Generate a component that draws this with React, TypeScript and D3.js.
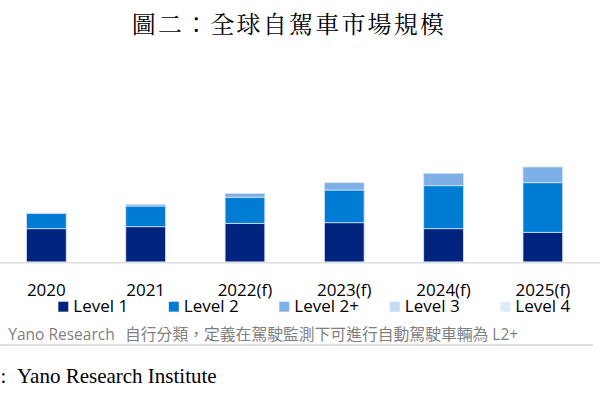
import React from 'react';
import * as d3 from 'd3';

// Years on the x axis
const years = ['2020', '2021', '2022(f)', '2023(f)', '2024(f)', '2025(f)'];

// Series names (stack order, bottom to top)
const levels = ['Level 1', 'Level 2', 'Level 2+', 'Level 3', 'Level 4'];

// Values (relative market size, no axis in the source)
const level1 = [33.2, 35.2, 38.6, 39.2, 33.2, 29.6];
const level2 = [15.2, 20.7, 26.1, 32.7, 43.0, 49.6];
const level2p = [0.4, 1.7, 3.7, 7.3, 12.4, 15.7];
const level3 = [0, 0, 0, 0, 0, 0];
const level4 = [0, 0, 0, 0, 0, 0];

const colors = ['#00237e', '#007cd5', '#7eb0e8', '#c6dcf5', '#deebfa'];

const title = '圖二：全球自駕車市場規模';
const noteLatin = 'Yano Research';
const noteCjk = '自行分類，定義在駕駛監測下可進行自動駕駛車輛為';
const noteTail = ' L2+';
const source = 'Yano Research Institute';

const W = 600;
const H = 400;
const baseY = 261.9;

export default function App() {
  const series = [level1, level2, level2p, level3, level4];
  const rows = years.map((yr, i) => {
    const r: Record<string, any> = { year: yr };
    levels.forEach((lv, j) => (r[lv] = series[j][i]));
    return r;
  });
  const stacked = d3.stack<any>().keys(levels)(rows);

  const x = d3.scaleBand<string>()
    .domain(years)
    .range([-3.3, 592.5])
    .paddingInner(0.6)
    .paddingOuter(0.3);
  const y = d3.scaleLinear().domain([0, 100]).range([baseY, baseY - 100]);

  const sans = '"Open Sans", "Noto Sans", sans-serif';
  const cjk = '"Noto Sans CJK TC", sans-serif';

  return (
    <div style={{ position: 'absolute', left: 0, top: 0 }} lang="zh-TW">
      <svg width={W} height={H} style={{ display: 'block', background: '#fff' }}>
        <text
          x={289}
          y={33.3}
          textAnchor="middle"
          fontFamily='"Noto Serif CJK TC", "Noto Sans CJK TC", serif'
          fontSize={24}
          letterSpacing={2.2}
          fill="#000"
        >
          {title}
        </text>

        {stacked.map((s, si) => (
          <g key={s.key} fill={colors[si]}>
            {s.map((d, i) =>
              d[1] - d[0] > 0 ? (
                <rect
                  key={i}
                  x={x(years[i])}
                  y={y(d[1])}
                  width={x.bandwidth()}
                  height={y(d[0]) - y(d[1])}
                  stroke="#d6e3f6"
                  strokeWidth={0.8}
                />
              ) : null
            )}
          </g>
        ))}

        <line x1={0} x2={W} y1={baseY + 0.8} y2={baseY + 0.8} stroke="#dcdcdc" strokeWidth={1.5} />

        {years.map((yr) => (
          <text
            key={yr}
            x={(x(yr) ?? 0) + x.bandwidth() / 2}
            y={295.5}
            textAnchor="middle"
            fontFamily={sans}
            fontSize={17}
            fill="#000"
          >
            {yr}
          </text>
        ))}

        {levels.map((lv, i) => {
          const lx = 58.3 + i * 110.5;
          return (
            <g key={lv}>
              <rect x={lx} y={301.7} width={10} height={10} fill={colors[i]} />
              <text x={lx + 15} y={312} fontFamily={sans} fontSize={17} fill="#000">
                {lv}
              </text>
            </g>
          );
        })}

        <text y={340} fontSize={15.5} fill="#7f7f7f">
          <tspan x={8.3} fontFamily={sans}>{noteLatin}</tspan>
          <tspan x={125} fontFamily={cjk} fontSize={15.8}>{noteCjk}</tspan>
          <tspan fontFamily={sans}>{noteTail}</tspan>
        </text>

        <line x1={0} x2={593} y1={345} y2={345} stroke="#e0e0e0" strokeWidth={2} />

        <text x={0.5} y={383} fontFamily='"Liberation Serif", "Times New Roman", serif' fontSize={21} fill="#000">
          :
        </text>
        <text x={17} y={383} fontFamily='"Liberation Serif", "Times New Roman", serif' fontSize={21} fill="#000">
          {source}
        </text>
      </svg>
    </div>
  );
}
